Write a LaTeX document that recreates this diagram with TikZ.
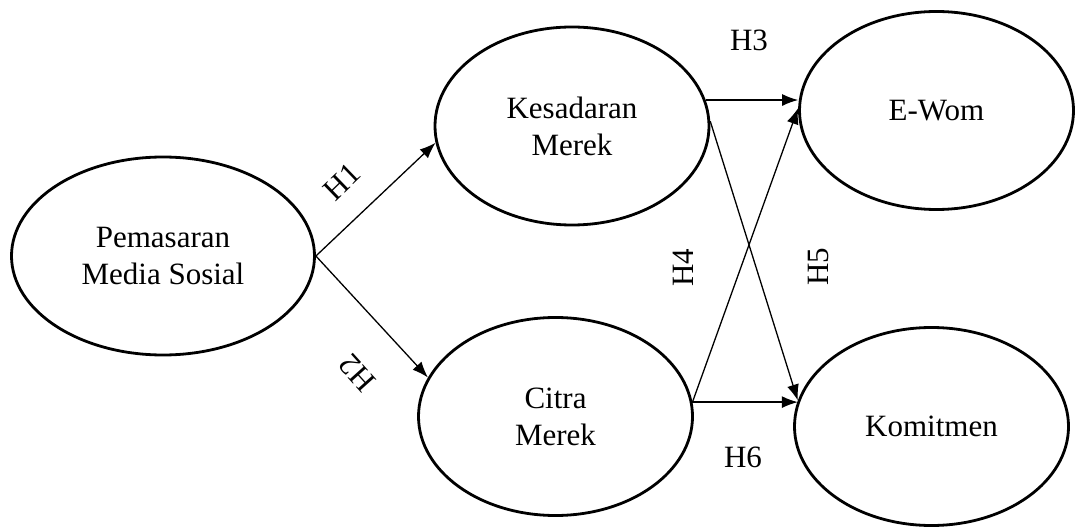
\documentclass[tikz,border=0pt]{standalone}
\usepackage{fontspec}
\setmainfont{Liberation Serif}
\usetikzlibrary{shapes.geometric,arrows.meta,calc}
\begin{document}
\begin{tikzpicture}[x=1pt,y=-1pt,
  var/.style={ellipse,draw,line width=2.8pt,inner sep=0pt,minimum width=274pt,minimum height=198pt,align=center,font=\fontsize{31}{37}\selectfont},
  path/.style={line width=1.3pt,-{Latex[length=16pt,width=12pt]}},
  hyp/.style={font=\fontsize{31}{37}\selectfont,inner sep=0pt}]
\useasboundingbox (0,0) rectangle (1079,529);
\node[var,minimum width=303pt] (A) at (163,256) {Pemasaran\\Media Sosial};
\node[var] (K) at (572,126) {Kesadaran\\Merek};
\node[var] (C) at (555.5,416.5) {Citra\\Merek};
\node[var] (E) at (936.5,110.5) {E-Wom};
\node[var] (M) at (931.5,426.5) {Komitmen};
\draw[path] (A.east) -- (K.187);
\draw[path] (A.east) -- (C.163);
\draw[path] (K.11) -- (K.11 -| E.179);
\draw[path] (K.2) -- (M.169);
\draw[path] (C.6) -- (E.179);
\draw[path] (C.6) -- (C.6 -| M.169);
\node[hyp,rotate=44] (h1) at (342,182) {H1};
\node[hyp,rotate=132] (h2) at (357,373) {H2};
\node[hyp] (h3) at (749,40) {H3};
\node[hyp,rotate=90] (h4) at (683,268) {H4};
\node[hyp,rotate=90] (h5) at (818,267) {H5};
\node[hyp] (h6) at (743,457) {H6};
\end{tikzpicture}
\end{document}
